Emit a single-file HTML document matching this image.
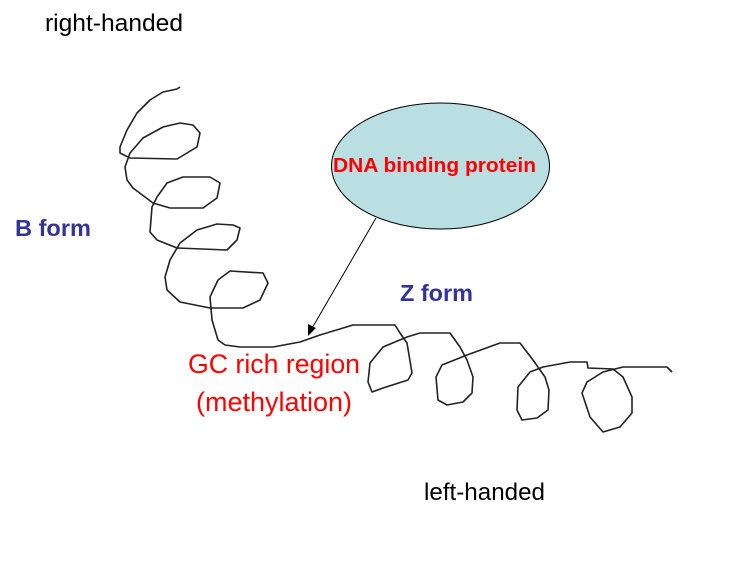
<!DOCTYPE html>
<html><head><style>
body{margin:0;background:#fff;width:738px;height:578px;overflow:hidden}
</style></head><body>
<svg width="738" height="578" viewBox="0 0 738 578" xmlns="http://www.w3.org/2000/svg" font-family="Liberation Sans, Arial, sans-serif">
<text x="45" y="31" font-size="24" fill="#000" textLength="138" lengthAdjust="spacingAndGlyphs">right-handed</text>
<text x="15" y="236" font-size="23.5" font-weight="bold" fill="#333399" textLength="76" lengthAdjust="spacingAndGlyphs">B form</text>
<text x="400" y="301" font-size="23.5" font-weight="bold" fill="#333399" textLength="73" lengthAdjust="spacingAndGlyphs">Z form</text>
<text x="188" y="373" font-size="26.5" fill="#ff0000" textLength="172" lengthAdjust="spacingAndGlyphs">GC rich region</text>
<text x="196" y="411" font-size="26.5" fill="#ff0000" textLength="156" lengthAdjust="spacingAndGlyphs">(methylation)</text>
<text x="424" y="500" font-size="24" fill="#000" textLength="121" lengthAdjust="spacingAndGlyphs">left-handed</text>
<ellipse cx="440.5" cy="166" rx="109" ry="63" fill="#b9dfe3" stroke="#000" stroke-width="1"/>
<text x="333" y="172" font-size="20" font-weight="bold" fill="#ff0000" textLength="203" lengthAdjust="spacingAndGlyphs">DNA binding protein</text>
<line x1="376" y1="218" x2="311" y2="330" stroke="#000" stroke-width="1"/>
<polygon points="308,336 308,324 316,328" fill="#000"/>
<polyline fill="none" stroke="#222" stroke-width="1.6" stroke-linejoin="round" points="180,87 177,89 163,92 150,100 137,113 127,130 120,147 120,153 130,158 177,159 197,147 200,133 193,125 180,123 163,127 143,138 130,153 125,167 127,180 133,188 153,203 170,208 203,208 217,198 220,183 210,177 183,177 167,183 157,197 152,207 150,232 157,240 177,248 227,250 237,240 240,228 233,225 217,224 197,230 180,243 170,260 165,277 167,290 180,302 210,308 243,308 260,300 268,283 263,273 230,271 218,280 210,297 212,320 218,340 225,345 240,347 273,347 300,342 320,335 353,325 395,325 400,333 407,343 412,373 408,380 383,388 372,392 368,382 370,363 383,347 407,337 420,333 450,333 460,347 467,360 473,377 472,393 463,402 447,405 438,400 436,377 442,365 467,355 500,343 520,343 533,360 545,377 549,390 548,410 537,418 522,420 517,410 518,387 530,372 543,367 570,362 587,362 588,368 613,369 623,377 632,397 632,413 620,427 603,432 590,417 582,393 587,382 603,372 623,367 667,367 672,372"/>
</svg>
</body></html>
